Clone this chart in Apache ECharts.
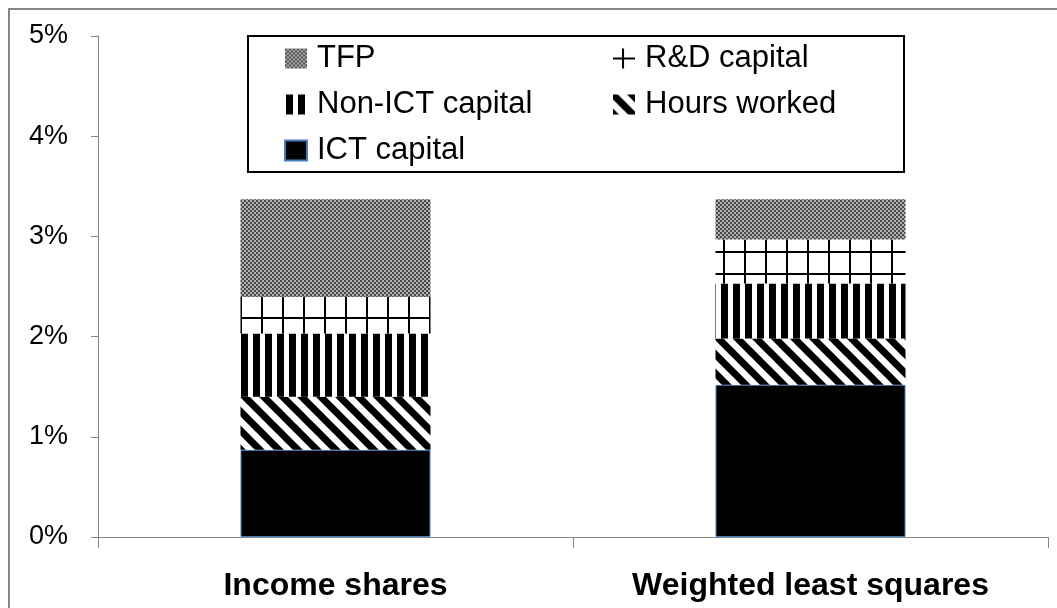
<!DOCTYPE html>
<html>
<head>
<meta charset="utf-8">
<title>Growth decomposition</title>
<script src="https://cdn.jsdelivr.net/npm/echarts@6/dist/echarts.min.js"></script>
<style>
  html, body { margin: 0; padding: 0; background: #fff; }
  #chart { width: 1057px; height: 608px; }
</style>
</head>
<body>
<div id="chart"></div>
<script>
// values in percentage points, stacked bottom -> top
var categories = ['Income shares', 'Weighted least squares'];
var ictCapital = [0.87, 1.52];
var hoursWorked = [0.53, 0.46];
var nonIctCapital = [0.63, 0.55];
var rdCapital = [0.37, 0.44];
var tfp = [0.97, 0.40];

var FONT = '"Liberation Sans", Arial, sans-serif';

// small canvas tiles used as fill patterns (black & white chart)
function makePattern(w, h, draw) {
  var c = document.createElement('canvas');
  c.width = w;
  c.height = h;
  var ctx = c.getContext('2d');
  ctx.fillStyle = '#fff';
  ctx.fillRect(0, 0, w, h);
  draw(ctx, w, h);
  return { image: c, repeat: 'repeat' };
}

var tfpFill = makePattern(4, 4, function (ctx) {
  ctx.fillStyle = '#b0b0b0';
  ctx.fillRect(0, 0, 4, 4);
  ctx.fillStyle = '#4a4a4a';
  ctx.fillRect(0, 0, 2, 2);
  ctx.fillRect(2, 2, 2, 2);
});
var rdFill = makePattern(21, 22, function (ctx) {
  ctx.fillStyle = '#000';
  ctx.fillRect(9, 0, 2, 22);
  ctx.fillRect(0, 9, 21, 2);
});
var nonIctFill = makePattern(12, 4, function (ctx) {
  ctx.fillStyle = '#000';
  ctx.fillRect(1, 0, 7, 4);
});
var hoursFill = makePattern(19, 19, function (ctx) {
  ctx.strokeStyle = '#000';
  ctx.lineWidth = 7;
  for (var k = -1; k <= 1; k++) {
    ctx.beginPath();
    ctx.moveTo(k * 19 - 6, -6);
    ctx.lineTo(k * 19 + 25, 25);
    ctx.stroke();
  }
});

var chart = echarts.init(document.getElementById('chart'));

function bar(name, data, fill, extra) {
  var s = {
    name: name,
    type: 'bar',
    stack: 'total',
    barWidth: '40%',
    data: data,
    itemStyle: { color: fill },
    emphasis: { disabled: true }
  };
  if (extra) s.itemStyle = Object.assign(s.itemStyle, extra);
  return s;
}

var legendText = { fontSize: 31, fontFamily: FONT, color: '#000', padding: [0, 0, 0, 5] };

var option = {
  animation: false,
  backgroundColor: '#fff',
  graphic: [
    {
      type: 'rect', z: 0, silent: true,
      shape: { x: 9, y: 9, width: 1200, height: 1000 },
      style: { fill: 'none', stroke: '#868686', lineWidth: 2 }
    },
    {
      type: 'rect', z: 3, silent: true,
      shape: { x: 248, y: 36, width: 656, height: 136 },
      style: { fill: '#fff', stroke: '#000', lineWidth: 2 }
    }
  ],
  legend: [
    {
      data: ['TFP', 'Non-ICT capital', 'ICT capital'],
      orient: 'vertical',
      left: 279, top: 38,
      itemWidth: 22, itemHeight: 20, itemGap: 15,
      icon: 'rect',
      selectedMode: false,
      textStyle: legendText
    },
    {
      data: ['R&D capital', 'Hours worked'],
      orient: 'vertical',
      left: 608, top: 38,
      itemWidth: 22, itemHeight: 20, itemGap: 15,
      icon: 'rect',
      selectedMode: false,
      textStyle: legendText
    }
  ],
  grid: { left: 98, right: 9, top: 36, bottom: 71 },
  xAxis: {
    type: 'category',
    data: categories,
    axisLine: { lineStyle: { color: '#868686', width: 1 } },
    axisTick: { show: true, length: 11, lineStyle: { color: '#868686' } },
    axisLabel: { margin: 33, fontSize: 32, fontWeight: 'bold', fontFamily: FONT, color: '#000' }
  },
  yAxis: {
    type: 'value',
    min: 0, max: 5, interval: 1,
    axisLine: { show: true, lineStyle: { color: '#868686', width: 1 } },
    axisTick: { show: true, length: 7, lineStyle: { color: '#868686' } },
    splitLine: { show: false },
    axisLabel: { margin: 30, fontSize: 27, fontFamily: FONT, color: '#000', formatter: '{value}%' }
  },
  series: [
    bar('ICT capital', ictCapital, '#000', { borderColor: '#4a7ebb', borderWidth: 1 }),
    bar('Hours worked', hoursWorked, hoursFill),
    bar('Non-ICT capital', nonIctCapital, nonIctFill),
    bar('R&D capital', rdCapital, rdFill),
    bar('TFP', tfp, tfpFill)
  ]
};

chart.setOption(option);
</script>
</body>
</html>
